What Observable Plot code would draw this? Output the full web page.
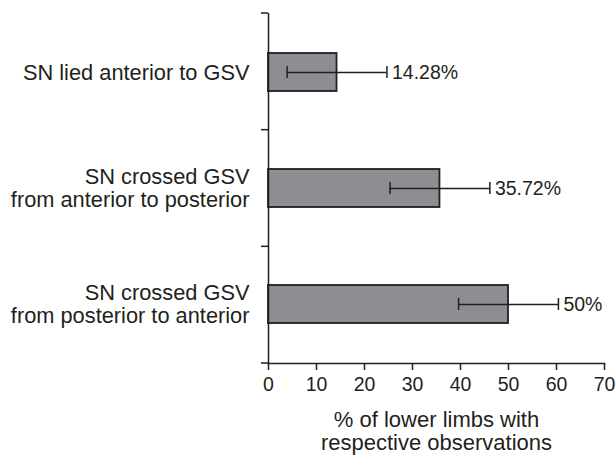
<!DOCTYPE html>
<html><head><meta charset="utf-8">
<script src="https://cdn.jsdelivr.net/npm/d3@7"></script>
<script src="https://cdn.jsdelivr.net/npm/@observablehq/plot@0.6"></script>
<style>body{margin:0;background:#fff}</style>
</head><body><div id="chart"></div>
<script>
const categories = ["SN lied anterior to GSV", "SN crossed GSV\nfrom anterior to posterior", "SN crossed GSV\nfrom posterior to anterior"];
const values = [14.28, 35.72, 50];
const errors = [10.4, 10.4, 10.4];
const valueLabels = ["14.28%", "35.72%", "50%"];
const xTicks = [0, 10, 20, 30, 40, 50, 60, 70];
const xTitle = "% of lower limbs with\nrespective observations";

const data = categories.map((c, i) => ({cat: c, value: values[i], lo: values[i] - errors[i], hi: values[i] + errors[i], label: valueLabels[i]}));
const ink = "#231f20";

// y-axis ticks at band boundaries (derived from frame dimensions and category count)
function bandBoundaryTicks(index, scales, channels, dim) {
  const top = dim.marginTop, bottom = dim.height - dim.marginBottom;
  const n = categories.length;
  const g = d3.create("svg:g").attr("stroke", ink).attr("stroke-width", 1.5);
  for (let k = 0; k <= n; k++) {
    const yy = top + k * (bottom - top) / n;
    g.append("line").attr("x1", dim.marginLeft - 7).attr("x2", dim.marginLeft).attr("y1", yy).attr("y2", yy);
  }
  return g.node();
}

const chart = Plot.plot({
  width: 616,
  height: 457,
  marginLeft: 268,
  marginRight: 12,
  marginTop: 13,
  marginBottom: 94,
  style: {fontFamily: "'Liberation Sans', Arial, sans-serif", color: ink, background: "#fff"},
  x: {domain: [0, 70]},
  y: {domain: categories, paddingInner: 0.67, paddingOuter: 0.335},
  marks: [
    Plot.barX(data, {x: "value", y: "cat", fill: "#8d8e92", stroke: ink, strokeWidth: 1.8}),
    Plot.ruleY(data, {x1: "lo", x2: "hi", y: "cat", stroke: ink, strokeWidth: 1.5}),
    Plot.tickX(data, {x: "lo", y: "cat", stroke: ink, strokeWidth: 1.5, insetTop: 13, insetBottom: 13}),
    Plot.tickX(data, {x: "hi", y: "cat", stroke: ink, strokeWidth: 1.5, insetTop: 13, insetBottom: 13}),
    Plot.text(data, {x: "hi", y: "cat", text: "label", textAnchor: "start", dx: 5, fontSize: 19.5, fill: ink}),
    Plot.ruleX([0], {stroke: ink, strokeWidth: 1.5}),
    Plot.frame({anchor: "bottom", stroke: ink, strokeWidth: 1.5}),
    bandBoundaryTicks,
    Plot.axisX({ticks: xTicks, tickSize: 7, tickPadding: 7, fontSize: 19.5, label: null, stroke: ink, strokeWidth: 1.5}),
    Plot.axisY({tickSize: 0, tickPadding: 19, fontSize: 21.8, label: null, lineHeight: 1.06}),
    Plot.text([xTitle], {frameAnchor: "bottom", dy: 68, lineAnchor: "middle", fontSize: 22, lineHeight: 1.03, fill: ink})
  ]
});
document.getElementById("chart").appendChild(chart);
</script>
</body></html>
